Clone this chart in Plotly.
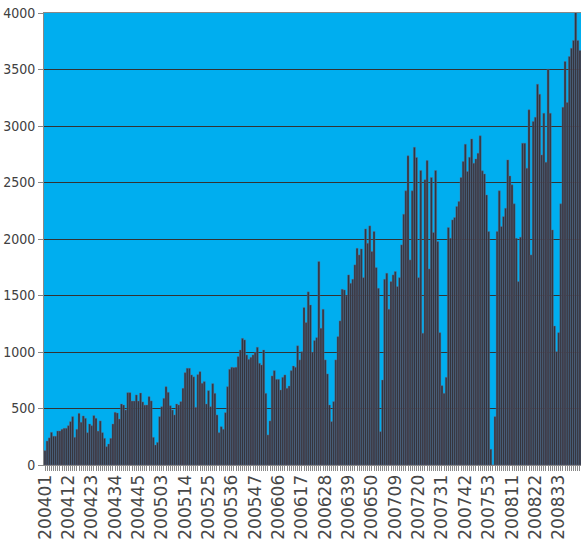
import plotly.graph_objects as go

# weeks per year present on the axis
weeks_per_year = [(2004, 53), (2005, 52), (2006, 52), (2007, 53), (2008, 43)]

v2004 = [127, 212, 240, 289, 255, 255, 301, 301, 316, 325,
         325, 348, 384, 428, 245, 316, 457, 378, 434, 413,
         286, 363, 348, 437, 413, 300, 390, 286, 236, 162,
         186, 236, 363, 466, 460, 407, 540, 531, 487, 640,
         640, 566, 566, 620, 566, 637, 558, 530, 531, 605,
         567, 245, 177]
v2005 = [200, 428, 516, 590, 693, 643, 525, 487, 443, 540,
         531, 561, 679, 817, 856, 856, 797, 780, 510, 800,
         826, 723, 738, 540, 658, 516, 720, 634, 443, 286,
         339, 316, 463, 693, 847, 865, 862, 865, 959, 1018,
         1121, 1107, 974, 935, 953, 974, 994, 1042, 900, 885,
         1018, 634]
v2006 = [266, 390, 788, 835, 758, 758, 664, 776, 797, 679,
         699, 835, 876, 865, 1055, 930, 1003, 1393, 1260, 1532,
         1416, 997, 1101, 1127, 1800, 1210, 1378, 930, 806, 531,
         384, 561, 930, 1136, 1275, 1555, 1549, 1496, 1682, 1608,
         1644, 1771, 1918, 1859, 1912, 1658, 2089, 1962, 2116, 1889,
         2066, 1747]
v2007 = [1564, 295, 752, 1644, 1697, 1378, 1623, 1682, 1712, 1579,
         1658, 1948, 2219, 2426, 2736, 1815, 2426, 2812, 2721, 1658,
         2606, 1166, 2525, 2694, 1735, 2544, 2057, 2606, 1977, 1171,
         702, 634, 776, 2101, 2007, 2169, 2190, 2287, 2331, 2544,
         2685, 2839, 2597, 2724, 2886, 2671, 2709, 2759, 2913, 2603,
         2576, 2390, 2066]
v2008 = [139, 0, 428, 2066, 2426, 2110, 2198, 2272, 2700, 2558,
         2479, 2311, 2007, 1623, 2016, 2848, 2848, 2626, 3143, 1859,
         3040, 3078, 3370, 3281, 2744, 3113, 2680, 3503, 3113, 2080,
         1230, 1003, 1171, 2311, 3166, 3571, 3208, 3615, 3689, 3757,
         4028, 3757, 3668]

tick_labels = ["200401", "200412", "200423", "200434", "200445", "200503",
               "200514", "200525", "200536", "200547", "200606", "200617",
               "200628", "200639", "200650", "200709", "200720", "200731",
               "200742", "200753", "200811", "200822", "200833"]

categories = [f"{y}{w:02d}" for y, n in weeks_per_year for w in range(1, n + 1)]
values = v2004 + v2005 + v2006 + v2007 + v2008

ticktext = [c if c in tick_labels else "" for c in categories]

fig = go.Figure(go.Bar(
    x=categories, y=values,
    marker=dict(color="#34343c", line=dict(color="#6c6c8c", width=0.4)),
    cliponaxis=False,
))

fig.update_layout(
    width=581, height=542,
    margin=dict(l=44, r=0, t=13, b=77, autoexpand=False),
    paper_bgcolor="white",
    plot_bgcolor="#00AEEF",
    bargap=0.04,
    showlegend=False,
)
fig.update_xaxes(
    type="category", automargin=False,
    tickmode="array", tickvals=categories, ticktext=ticktext,
    tickangle=-90, ticklabelstandoff=-3,
    ticks="outside", ticklen=5, tickcolor="#888888", tickwidth=1,
    tickfont=dict(family="DejaVu Sans", size=17, color="#484848"),
    showline=True, linecolor="#888888", linewidth=1, mirror=True,
    showgrid=False,
)
fig.update_yaxes(
    range=[0, 4000], dtick=500, automargin=False,
    ticks="outside", ticklen=5, tickcolor="#888888",
    tickfont=dict(family="Liberation Sans Narrow, DejaVu Sans Condensed, sans-serif", size=14, color="#404040"),
    showline=True, linecolor="#888888", linewidth=1,
    showgrid=True, gridcolor="#333333", gridwidth=1,
    zeroline=False,
)

fig.write_html("out.html", config={"displayModeBar": False},
               post_script="document.body.style.margin='0';document.body.style.overflow='hidden';")
